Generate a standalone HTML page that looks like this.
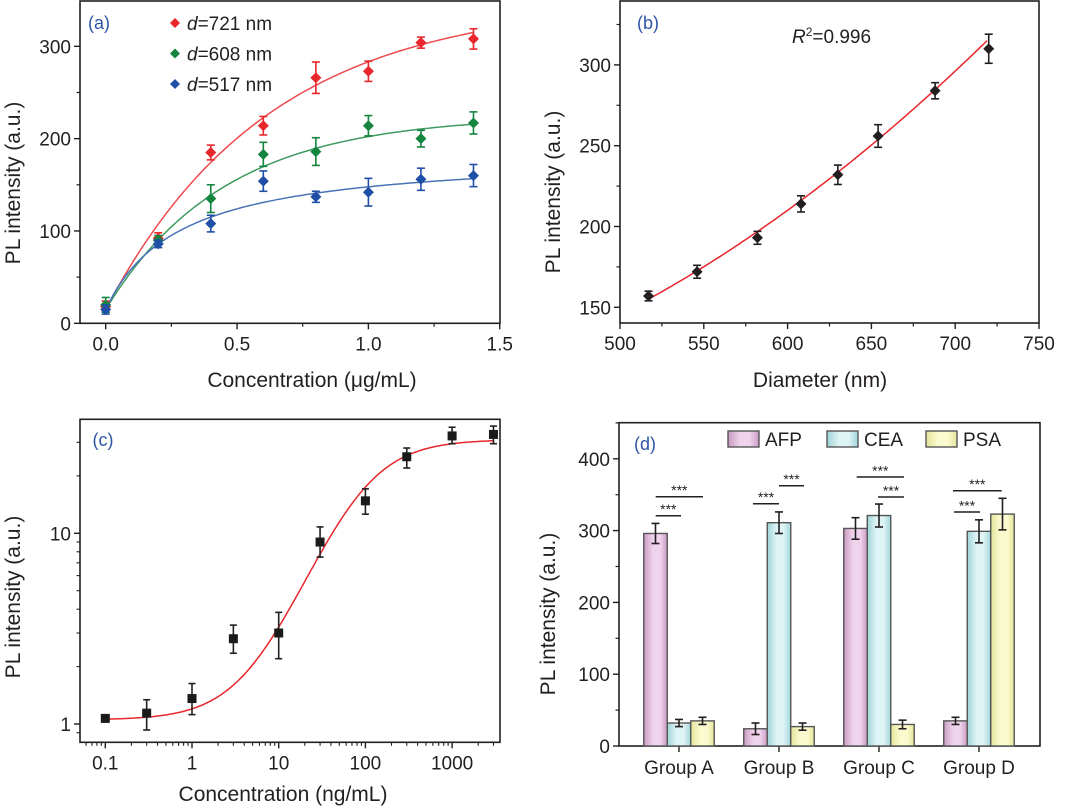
<!DOCTYPE html>
<html><head><meta charset="utf-8"><style>
html,body{margin:0;padding:0;background:#fff}
svg{display:block;font-family:"Liberation Sans",Arial,sans-serif}
</style></head><body>
<svg id="fig" width="1080" height="812" viewBox="0 0 1080 812" xmlns="http://www.w3.org/2000/svg"></svg>
<script>
// ---- Panel (a) data ----
const aX = [0, 0.2, 0.4, 0.6, 0.8, 1.0, 1.2, 1.4];
const aRed = [18, 92, 185, 214, 266, 273, 304, 308];
const aRedErr = [6, 6, 8, 10, 17, 11, 6, 11];
const aGreen = [20, 90, 135, 183, 186, 214, 200, 217];
const aGreenErr = [8, 5, 15, 13, 15, 11, 9, 12];
const aBlue = [15, 86, 108, 154, 137, 142, 156, 160];
const aBlueErr = [5, 4, 9, 11, 6, 15, 12, 12];
const aRedFit = [15, 335, 0.62];
const aGreenFit = [15, 210, 0.45];
const aBlueFit = [15, 170, 0.28];
const aXTicks = ["0.0", "0.5", "1.0", "1.5"];
const aYTicks = ["0", "100", "200", "300"];
const aLegend = ["721", "608", "517"];
// ---- Panel (b) data ----
const bX = [517, 546, 582, 608, 630, 654, 688, 720];
const bY = [157, 172, 193, 214, 232, 256, 284, 310];
const bErr = [3, 4, 4, 5, 6, 7, 5, 9];
const bFit = [145.6, 0.536, 0.001084];
const bXTicks = ["500", "550", "600", "650", "700", "750"];
const bYTicks = ["150", "200", "250", "300"];
// ---- Panel (c) data ----
const cX = [0.1, 0.3, 1, 3, 10, 30, 100, 300, 1000, 3000];
const cY = [1.07, 1.14, 1.36, 2.8, 3.0, 9.0, 14.8, 25.2, 32.4, 33];
const cErrHi = [1.09, 1.34, 1.63, 3.3, 3.85, 10.8, 17.1, 28, 36, 36.5];
const cErrLo = [1.05, 0.93, 1.12, 2.35, 2.2, 7.5, 12.6, 22, 29.5, 29.5];
const cFit = [1.05, 31, 85, 1.19];
const cXTicks = ["0.1", "1", "10", "100", "1000"];
const cYTicks = ["1", "10"];
// ---- Panel (d) data ----
const dGroups = ["Group A", "Group B", "Group C", "Group D"];
const dSeries = ["AFP", "CEA", "PSA"];
const dAFP = [296, 24, 303, 35];
const dCEA = [32, 311, 321, 299];
const dPSA = [35, 27, 30, 323];
const dAFPErr = [14, 8, 15, 5];
const dCEAErr = [5, 15, 16, 16];
const dPSAErr = [5, 5, 6, 22];
const dYTicks = ["0", "100", "200", "300", "400"];

const NS = "http://www.w3.org/2000/svg";
const svg = document.getElementById("fig");
function mk(tag, attrs, parent) {
  const e = document.createElementNS(NS, tag);
  for (const k in attrs) e.setAttribute(k, attrs[k]);
  (parent || svg).appendChild(e);
  return e;
}
function txt(x, y, s, size, anchor, parent, fill) {
  const t = mk("text", {x: x, y: y, "font-size": size, "text-anchor": anchor || "middle", fill: fill || "#231f20"}, parent);
  t.textContent = s;
  return t;
}
function line(x1, y1, x2, y2, col, w, parent) {
  return mk("line", {x1: x1, y1: y1, x2: x2, y2: y2, stroke: col, "stroke-width": w}, parent);
}
function errbar(x, yTop, yBot, col, parent, cap) {
  cap = cap || 4;
  line(x, yTop, x, yBot, col, 1.6, parent);
  line(x - cap, yTop, x + cap, yTop, col, 1.6, parent);
  line(x - cap, yBot, x + cap, yBot, col, 1.6, parent);
}
function diamond(x, y, col, parent, r) {
  r = r || 5.5;
  return mk("polygon", {points: `${x},${y-r} ${x+r},${y} ${x},${y+r} ${x-r},${y}`, fill: col}, parent);
}
function box(L, T, R, B, parent) {
  mk("rect", {x: L, y: T, width: R - L, height: B - T, fill: "none", stroke: "#231f20", "stroke-width": 1.6}, parent);
}

// ================= Panel (a) =================
(function () {
  const g = mk("g", {});
  
  
  const L = 80, R = 500, T = 1, B = 323.3;
  const sx = v => 105.7 + v * 262.7;
  const sy = v => 323.3 - v * 0.9233;
  box(L, T, R, B, g);
  aXTicks.forEach((s, i) => {
    const v = parseFloat(s), x = sx(v);
    line(x, B, x, B + 6, "#231f20", 1.4, g);
    const t = txt(x, B + 27, s, 19, "middle", g);
    
    
    if (i < aXTicks.length - 1) { const xm = sx(v + 0.25); line(xm, B, xm, B + 3.5, "#231f20", 1.2, g); }
  });
  aYTicks.forEach(s => {
    const v = parseFloat(s), y = sy(v);
    line(L - 6, y, L, y, "#231f20", 1.4, g);
    const t = txt(L - 9, y + 7, s, 19, "end", g);
    
    
    const ym = sy(v + 50); if (ym > T) line(L - 3.5, ym, L, ym, "#231f20", 1.2, g);
  });
  const xt = txt(312, 387, "Concentration (μg/mL)", 21, "middle", g);
  
  
  const yt = txt(0, 0, "PL intensity (a.u.)", 21, "middle", g);
  yt.setAttribute("transform", "translate(20,183) rotate(-90)");
  
  
  const lab = txt(99, 29, "(a)", 18, "middle", g, "#2e55a5");
  
  
  const series = [[aRed, aRedErr, aRedFit, "#e8262b", "#ee4a4d"], [aGreen, aGreenErr, aGreenFit, "#13853e", "#3f9a60"], [aBlue, aBlueErr, aBlueFit, "#1f4fa6", "#4a72b8"]];
  series.forEach((s, k) => {
    const [vals, errs, fit, col, lcol] = s;
    let d = "";
    for (let i = 0; i <= 140; i++) {
      const x = i / 100;
      let y;
      if (k < 2) y = fit[0] + fit[1] * (1 - Math.exp(-x / fit[2]));
      else y = fit[0] + fit[1] * x / (fit[2] + x);
      d += (i ? "L" : "M") + sx(x).toFixed(1) + "," + sy(y).toFixed(1);
    }
    const p = mk("path", {d: d, fill: "none", stroke: lcol, "stroke-width": 1.5}, g);
    
    
  });
  series.forEach(s => {
    const [vals, errs, fit, col] = s;
    vals.forEach((v, i) => {
      errbar(sx(aX[i]), sy(v + errs[i]), sy(v - errs[i]), col, g);
      const m = diamond(sx(aX[i]), sy(v), col, g);
      
      
    });
  });
  aLegend.forEach((d, i) => {
    const y = 23 + i * 30.5;
    diamond(175, y, series[i][3], g, 5);
    const t = mk("text", {x: 187, y: y + 7, "font-size": 19, fill: "#231f20"}, g);
    
    
    const it = mk("tspan", {"font-style": "italic"}, t); it.textContent = "d";
    const rest = mk("tspan", {}, t); rest.textContent = "=" + d + " nm";
  });
})();

// ================= Panel (b) =================
(function () {
  const g = mk("g", {});
  
  
  const L = 620, R = 1039, T = 1, B = 323;
  const sx = v => 620 + (v - 500) * 1.676;
  const sy = v => 307.3 - (v - 150) * 1.616;
  box(L, T, R, B, g);
  bXTicks.forEach((s, i) => {
    const v = parseFloat(s), x = sx(v);
    line(x, B, x, B + 6, "#231f20", 1.4, g);
    const t = txt(x, B + 27, s, 19, "middle", g);
    
    
    if (i < bXTicks.length - 1) { const xm = sx(v + 25); line(xm, B, xm, B + 3.5, "#231f20", 1.2, g); }
  });
  bYTicks.forEach(s => {
    const v = parseFloat(s), y = sy(v);
    line(L - 6, y, L, y, "#231f20", 1.4, g);
    const t = txt(L - 9, y + 7, s, 19, "end", g);
    
    
    const ym = sy(v + 25); if (ym > T) line(L - 3.5, ym, L, ym, "#231f20", 1.2, g);
  });
  const xt = txt(820, 387, "Diameter (nm)", 21, "middle", g);
  
  
  const yt = txt(0, 0, "PL intensity (a.u.)", 21, "middle", g);
  yt.setAttribute("transform", "translate(560,192) rotate(-90)");
  
  
  const lab = txt(648, 29, "(b)", 18, "middle", g, "#2e55a5");
  
  
  const r2 = mk("text", {x: 792, y: 43, "font-size": 19, fill: "#231f20"}, g);
  
  
  const r2a = mk("tspan", {"font-style": "italic"}, r2); r2a.textContent = "R";
  const r2b = mk("tspan", {"font-size": 12, dy: -7}, r2); r2b.textContent = "2";
  const r2c = mk("tspan", {dy: 7}, r2); r2c.textContent = "=0.996";
  let d = "";
  for (let x = bX[0]; x <= bX[bX.length - 1]; x += 2) {
    const u = x - 500, y = bFit[0] + bFit[1] * u + bFit[2] * u * u;
    d += (x === bX[0] ? "M" : "L") + sx(x).toFixed(1) + "," + sy(y).toFixed(1);
  }
  const p = mk("path", {d: d, fill: "none", stroke: "#e8262b", "stroke-width": 1.5}, g);
  
  
  bY.forEach((v, i) => {
    errbar(sx(bX[i]), sy(v + bErr[i]), sy(v - bErr[i]), "#231f20", g);
    const m = diamond(sx(bX[i]), sy(v), "#231f20", g);
    
    
  });
})();

// ================= Panel (c) =================
(function () {
  const g = mk("g", {});
  
  
  const L = 80, R = 500, T = 419.3, B = 742.3;
  const sx = v => 192 + Math.log10(v) * 86.7;
  const sy = v => 724 - Math.log10(v) * 190.7;
  box(L, T, R, B, g);
  cXTicks.forEach(s => {
    const v = parseFloat(s), x = sx(v);
    line(x, B, x, B + 6, "#231f20", 1.4, g);
    const t = txt(x, B + 27, s, 19, "middle", g);
    
    
  });
  for (let e = -2; e <= 3; e++) for (let m = 2; m <= 9; m++) {
    const x = sx(m * Math.pow(10, e));
    if (x > L && x < R) line(x, B, x, B + 3.5, "#231f20", 1.1, g);
  }
  cYTicks.forEach(s => {
    const v = parseFloat(s), y = sy(v);
    line(L - 6, y, L, y, "#231f20", 1.4, g);
    const t = txt(L - 9, y + 7, s, 19, "end", g);
    
    
  });
  for (let e = -1; e <= 1; e++) for (let m = 2; m <= 9; m++) {
    const y = sy(m * Math.pow(10, e));
    if (y > T && y < B) line(L - 3.5, y, L, y, "#231f20", 1.1, g);
  }
  const xt = txt(283, 801, "Concentration (ng/mL)", 21, "middle", g);
  
  
  const yt = txt(0, 0, "PL intensity (a.u.)", 21, "middle", g);
  yt.setAttribute("transform", "translate(20,597) rotate(-90)");
  
  
  const lab = txt(103, 446, "(c)", 18, "middle", g, "#2e55a5");
  
  
  let d = "";
  for (let i = 0; i <= 200; i++) {
    const lx = -1 + i * (4.477 / 200), x = Math.pow(10, lx);
    const y = cFit[1] + (cFit[0] - cFit[1]) / (1 + Math.pow(x / cFit[2], cFit[3]));
    d += (i ? "L" : "M") + sx(x).toFixed(1) + "," + sy(y).toFixed(1);
  }
  const p = mk("path", {d: d, fill: "none", stroke: "#e8262b", "stroke-width": 1.5}, g);
  
  
  cY.forEach((v, i) => {
    errbar(sx(cX[i]), sy(cErrHi[i]), sy(cErrLo[i]), "#231f20", g, 3.5);
    const m = mk("rect", {x: sx(cX[i]) - 4.5, y: sy(v) - 4.5, width: 9, height: 9, fill: "#1a1a1a"}, g);
    
    
  });
})();

// ================= Panel (d) =================
(function () {
  const g = mk("g", {});
  
  
  const defs = mk("defs", {}, g);
  const cols = [["#c99bc4", "#f0d3ec"], ["#9fd6d9", "#dff4f5"], ["#e4e49a", "#fbfbd0"]];
  cols.forEach((c, k) => {
    const lg = mk("linearGradient", {id: "grad" + k, x1: 0, x2: 1, y1: 0, y2: 0}, defs);
    mk("stop", {offset: "0", "stop-color": c[0]}, lg);
    mk("stop", {offset: "0.4", "stop-color": c[1]}, lg);
    mk("stop", {offset: "0.7", "stop-color": c[1]}, lg);
    mk("stop", {offset: "1", "stop-color": c[0]}, lg);
  });
  const L = 619, R = 1040, T = 422.7, B = 746;
  const sy = v => 746 - v * 0.718;
  const cx = i => 679 + i * 100;
  const bw = 23.5;
  box(L, T, R, B, g);
  dYTicks.forEach(s => {
    const v = parseFloat(s), y = sy(v);
    line(L - 6, y, L, y, "#231f20", 1.4, g);
    const t = txt(L - 9, y + 7, s, 19, "end", g);
    
    
    const ym = sy(v + 50); if (ym > T) line(L - 3.5, ym, L, ym, "#231f20", 1.2, g);
  });
  dGroups.forEach((s, i) => {
    line(cx(i), B, cx(i), B + 6, "#231f20", 1.4, g);
    const t = txt(cx(i), B + 28, s, 19, "middle", g);
    
    
  });
  const yt = txt(0, 0, "PL intensity (a.u.)", 21, "middle", g);
  yt.setAttribute("transform", "translate(555,614) rotate(-90)");
  
  
  const lab = txt(645, 450, "(d)", 18, "middle", g, "#2e55a5");
  
  
  const vals = [dAFP, dCEA, dPSA], errs = [dAFPErr, dCEAErr, dPSAErr];
  vals.forEach((arr, k) => {
    arr.forEach((v, i) => {
      const x = cx(i) + (k - 1) * bw - bw / 2;
      const r = mk("rect", {x: x, y: sy(v), width: bw, height: B - sy(v), fill: "url(#grad" + k + ")", stroke: "#555", "stroke-width": 1.4}, g);
      
      
    });
  });
  vals.forEach((arr, k) => arr.forEach((v, i) => {
    errbar(cx(i) + (k - 1) * bw, sy(v + errs[k][i]), sy(v - errs[k][i]), "#231f20", g, 4);
  }));
  dSeries.forEach((s, k) => {
    const x = 728 + k * 99;
    const r = mk("rect", {x: x, y: 431, width: 31, height: 16, fill: "url(#grad" + k + ")", stroke: "#555", "stroke-width": 1.4}, g);
    
    
    const t = txt(x + 37, 446, s, 19, "start", g);
    
    
  });
  const sig = [[655.7, 681, 515.7], [655.7, 703, 496.7], [753, 779, 503.7], [779, 804, 485.7], [856.7, 904, 477], [878, 904, 497], [953, 1001.7, 490.7], [954, 980, 512]];
  sig.forEach(s => {
    line(s[0], s[2], s[1], s[2], "#231f20", 1.5, g);
    const t = txt((s[0] + s[1]) / 2, s[2] - 1.5, "***", 14, "middle", g);
    
    
  });
})();
</script>
</body></html>
